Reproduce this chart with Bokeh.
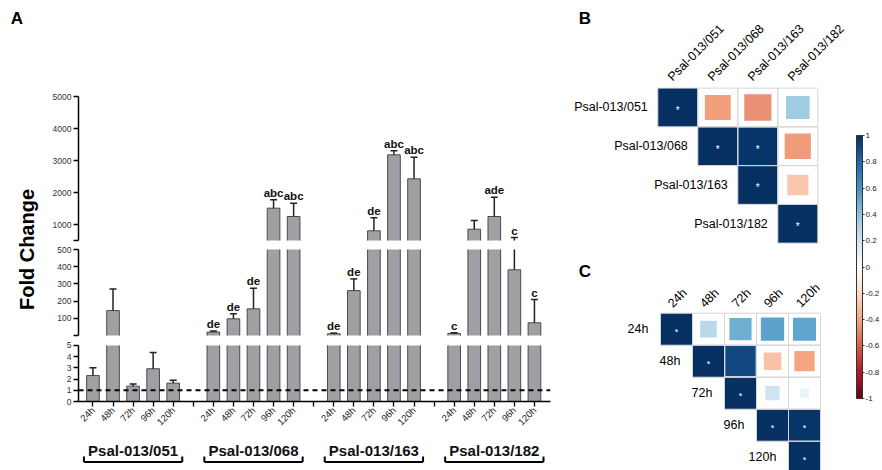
import numpy as np
from math import pi
from bokeh.plotting import figure
from bokeh.models import (Range1d, FixedTicker, Span, ColumnDataSource, ColorBar,
                          LinearColorMapper, CustomJSTickFormatter)
from bokeh.layouts import row, column
from bokeh.core.properties import value
from bokeh.transform import linear_cmap
from bokeh.embed import file_html
from bokeh.resources import INLINE

FONT = "Liberation Sans"

# ---------------- data: panel A ----------------
groups = ["Psal-013/051", "Psal-013/068", "Psal-013/163", "Psal-013/182"]
times = ["24h", "48h", "72h", "96h", "120h"]
fold_051 = [2.31, 145, 1.37, 2.92, 1.64]
err_051 = [0.70, 126, 0.18, 1.44, 0.26]
fold_068 = [20, 97, 155, 1510, 1250]
err_068 = [6, 29, 120, 261, 416]
fold_163 = [10, 261, 803, 3177, 2427]
err_163 = [4, 68, 406, 125, 677]
fold_182 = [12, 853, 1250, 382, 74]
err_182 = [4, 272, 604, 208, 135]
sig_051 = ["", "", "", "", ""]
sig_068 = ["de", "de", "de", "abc", "abc"]
sig_163 = ["de", "de", "de", "abc", "abc"]
sig_182 = ["c", "", "ade", "c", "c"]
y_ticks_top = [500, 1000, 2000, 3000, 4000, 5000]
y_ticks_mid = [0, 100, 200, 300, 400, 500]
y_ticks_bot = [0, 1, 2, 3, 4, 5]
baseline_fold = 1

# ---------------- data: panels B and C ----------------
B_labels = ["Psal-013/051", "Psal-013/068", "Psal-013/163", "Psal-013/182"]
B_corr = [[1.00, -0.42, -0.46, 0.35],
          [None, 1.00, 0.97, -0.43],
          [None, None, 1.00, -0.28],
          [None, None, None, 1.00]]
B_sig = [[1, 0, 0, 0], [0, 1, 1, 0], [0, 0, 1, 0], [0, 0, 0, 1]]

C_labels = ["24h", "48h", "72h", "96h", "120h"]
C_corr = [[1.00, 0.27, 0.48, 0.53, 0.52],
          [None, 1.00, 0.90, -0.30, -0.40],
          [None, None, 1.00, 0.20, 0.08],
          [None, None, None, 1.00, 0.97],
          [None, None, None, None, 1.00]]
C_sig = [[1, 0, 0, 0, 0], [0, 1, 0, 0, 0], [0, 0, 1, 0, 0], [0, 0, 0, 1, 1], [0, 0, 0, 0, 1]]

cbar_ticks = [-1, -0.8, -0.6, -0.4, -0.2, 0, 0.2, 0.4, 0.6, 0.8, 1]

# ---------------- palette (corrplot RdBu) ----------------
base = ["#67001F", "#B2182B", "#D6604D", "#F4A582", "#FDDBC7", "#FFFFFF",
        "#D1E5F0", "#92C5DE", "#4393C3", "#2166AC", "#053061"]
rgb = np.array([[int(c[i:i + 2], 16) for i in (1, 3, 5)] for c in base], float)
t = np.linspace(0, len(base) - 1, 200)
PAL = []
for tt in t:
    k = min(int(tt), len(base) - 2)
    f = tt - k
    c = rgb[k] * (1 - f) + rgb[k + 1] * f
    PAL.append("#%02x%02x%02x" % tuple(int(round(v)) for v in c))

# ---------------- panel A assembly ----------------
folds = [fold_051, fold_068, fold_163, fold_182]
errs = [err_051, err_068, err_163, err_182]
sigs = [sig_051, sig_068, sig_163, sig_182]
slot = len(times) + 1
xs, fv, ev, sv, tl = [], [], [], [], []
for g in range(len(groups)):
    for k in range(len(times)):
        xs.append(g * slot + k)
        fv.append(folds[g][k]); ev.append(errs[g][k]); sv.append(sigs[g][k])
        tl.append(times[k])
xs = np.array(xs, float); fv = np.array(fv, float); ev = np.array(ev, float)
sv = np.array(sv, dtype=object)
n_ticks = len(groups) * slot - 1
tick_labels = {i: "" for i in range(n_ticks)}
for x, lab in zip(xs, tl):
    tick_labels[int(x)] = lab

XR = Range1d(-0.72, 22.8)
BAR_W = 0.63
BAR_FILL = "#A0A0A4"
BAR_LINE = "#4A4A4A"
LEFT_W = 512


def seg_fig(height, yr, lo, hi, floor, ticks, top_border, bottom_border, xaxis=False, hide_lo=True):
    p = figure(width=LEFT_W, height=height, x_range=XR, y_range=yr,
               toolbar_location=None, output_backend="svg",
               x_axis_location="below" if xaxis else None,
               min_border_left=30, min_border_right=10,
               min_border_top=top_border, min_border_bottom=bottom_border)
    p.outline_line_color = None
    p.xgrid.visible = False
    p.ygrid.visible = False
    ya = p.yaxis[0]
    ya.ticker = FixedTicker(ticks=ticks)
    ya.bounds = (lo, hi)
    if hide_lo:
        ya.major_label_overrides = {lo: ""}
    ya.axis_line_width = 1.5
    ya.axis_line_color = "black"
    ya.major_tick_line_color = "black"
    ya.major_tick_line_width = 1.3
    ya.major_tick_out = 5
    ya.major_tick_in = 0
    ya.minor_tick_line_color = None
    ya.major_label_standoff = 2
    ya.major_label_text_font = FONT
    ya.major_label_text_font_size = "8.5px"
    ya.major_label_text_color = "#333333"

    # bars clipped to this segment (fill, then outline without the cut edges)
    m = fv > floor
    x = xs[m]
    top = np.minimum(fv[m], hi)
    p.vbar(x=x, width=BAR_W, bottom=lo, top=top, fill_color=BAR_FILL, line_color=None)
    p.segment(x0=x - BAR_W / 2, y0=lo, x1=x - BAR_W / 2, y1=top, line_color=BAR_LINE, line_width=1)
    p.segment(x0=x + BAR_W / 2, y0=lo, x1=x + BAR_W / 2, y1=top, line_color=BAR_LINE, line_width=1)
    mt = fv[m] <= hi
    p.segment(x0=x[mt] - BAR_W / 2, y0=top[mt], x1=x[mt] + BAR_W / 2, y1=top[mt],
              line_color=BAR_LINE, line_width=1)
    # error bars clipped to this segment
    et = fv + ev
    m2 = (et > floor) & (fv < hi)
    e0 = np.maximum(fv[m2], lo)
    e1 = np.minimum(et[m2], hi)
    p.segment(x0=xs[m2], y0=e0, x1=xs[m2], y1=e1, line_color="#222222", line_width=1.5)
    m3 = (et > floor) & (et <= hi)
    p.scatter(x=xs[m3], y=et[m3], marker="dash", size=7, line_color="#222222", line_width=1.5)
    # significance letters
    m4 = m3 & (sv != "")
    if m4.any():
        p.text(x=xs[m4], y=et[m4], text=list(sv[m4]), text_align="center",
               text_baseline="alphabetic", y_offset=-7,
               text_font=value(FONT), text_font_style="bold", text_font_size="11.5px",
               text_color="#111111")
    return p


fig_top = seg_fig(242, Range1d(437.5, 6500), 500, 5000, 500, y_ticks_top, 48, 0)
fig_mid = seg_fig(96, Range1d(-17.44, 540.7), 0, 500, 5, y_ticks_mid, 0, 0)
fig_bot = seg_fig(96, Range1d(0, 5.614), 0, 5, 0, y_ticks_bot, 0, 32, xaxis=True, hide_lo=False)
xa = fig_bot.xaxis[0]
xa.ticker = FixedTicker(ticks=list(range(n_ticks)))
xa.major_label_overrides = tick_labels
xa.major_label_orientation = pi / 4
xa.axis_line_width = 1.5
xa.axis_line_color = "black"
xa.major_tick_line_color = "black"
xa.major_tick_line_width = 1.3
xa.major_tick_out = 5
xa.major_tick_in = 0
xa.minor_tick_line_color = None
xa.major_label_standoff = 2
xa.major_label_text_font = FONT
xa.major_label_text_font_size = "9.5px"
xa.major_label_text_color = "#222222"
fig_bot.add_layout(Span(location=baseline_fold, dimension="width", line_color="black",
                        line_width=2, line_dash="5 4"))

# group labels + brackets
fig_grp = figure(width=LEFT_W, height=36, x_range=XR, y_range=Range1d(0, 36),
                 toolbar_location=None, output_backend="svg",
                 x_axis_location=None, y_axis_location=None,
                 min_border_left=30, min_border_right=10, min_border_top=0, min_border_bottom=0)
fig_grp.outline_line_color = None
fig_grp.xgrid.visible = False
fig_grp.ygrid.visible = False
gc = np.array([g * slot + (len(times) - 1) / 2 for g in range(len(groups))])
half = len(times) / 2 - 0.05
fig_grp.text(x=gc, y=20, text=groups, text_align="center", text_baseline="middle",
             text_font=value(FONT), text_font_style="bold", text_font_size="15px",
             text_color="#111111")
fig_grp.segment(x0=gc - half, y0=8.5, x1=gc + half, y1=8.5, line_color="black", line_width=2)
fig_grp.segment(x0=gc - half, y0=8.5, x1=gc - half, y1=14, line_color="black", line_width=2)
fig_grp.segment(x0=gc + half, y0=8.5, x1=gc + half, y1=14, line_color="black", line_width=2)

# left strip: panel letter + y label
fig_lab = figure(width=48, height=470, x_range=Range1d(0, 48), y_range=Range1d(470, 0),
                 toolbar_location=None, output_backend="svg",
                 x_axis_location=None, y_axis_location=None, min_border=0)
fig_lab.outline_line_color = None
fig_lab.xgrid.visible = False
fig_lab.ygrid.visible = False
fig_lab.text(x=[16.5], y=[18], text=["A"], text_align="center", text_baseline="middle",
             text_font=value(FONT), text_font_style="bold", text_font_size="17px",
             text_color="black")
fig_lab.text(x=[26], y=[249], text=["Fold Change"], angle=pi / 2, text_align="center",
             text_baseline="middle", text_font=value(FONT), text_font_style="bold",
             text_font_size="20px", text_color="black")


# ---------------- panels B and C ----------------
def corr_fig(labels, corr, sig, height, xr, yr, letter, letter_xy, font_px, star_px, gap):
    p = figure(width=292, height=height, x_range=xr, y_range=yr,
               toolbar_location=None, output_backend="svg",
               x_axis_location=None, y_axis_location=None, min_border=0)
    p.outline_line_color = None
    p.xgrid.visible = False
    p.ygrid.visible = False
    n = len(labels)
    rr, cc, vv, ss = [], [], [], []
    for i in range(n):
        for j in range(i, n):
            rr.append(i); cc.append(j); vv.append(corr[i][j]); ss.append(sig[i][j])
    vv = np.array(vv, float)
    src = ColumnDataSource(dict(row=rr, col=cc, r=vv, size=np.sqrt(np.abs(vv))))
    p.rect(x="col", y="row", width="size", height="size", source=src,
           fill_color=linear_cmap("r", PAL, -1, 1), line_color=None)
    p.rect(x="col", y="row", width=1, height=1, source=src, fill_color=None,
           line_color="#D6D6D6", line_width=1)
    sr = [r for r, s in zip(rr, ss) if s]
    sc = [c for c, s in zip(cc, ss) if s]
    p.text(x=sc, y=sr, text=["*"] * len(sr), text_align="center", text_baseline="middle",
           y_offset=3, text_font=value(FONT), text_font_size=star_px, text_color="white")
    idx = list(range(n))
    p.text(x=[i - 0.5 - gap for i in idx], y=idx, text=labels, text_align="right",
           text_baseline="middle", text_font=value(FONT), text_font_size=font_px,
           text_color="black")
    p.text(x=[i - 0.2 for i in idx], y=[-0.74] * n, text=labels, angle=pi / 4,
           text_align="left", text_baseline="alphabetic", text_font=value(FONT),
           text_font_size=font_px, text_color="black")
    p.text(x=[letter_xy[0]], y=[letter_xy[1]], text=[letter], text_align="center",
           text_baseline="middle", text_font=value(FONT), text_font_style="bold",
           text_font_size="17px", text_color="black")
    return p


fig_B = corr_fig(B_labels, B_corr, B_sig, 262, Range1d(-2.9325, 4.3675), Range1d(4.0, -2.761),
                 "B", (-2.32, -2.30), "12.5px", "10px", 0.25)
fig_C = corr_fig(C_labels, C_corr, C_sig, 208, Range1d(-3.625, 5.5), Range1d(4.416, -2.084),
                 "C", (-2.86, -1.79), "12.5px", "9px", 0.38)

# ---------------- colour bar ----------------
fig_cb = figure(width=30, height=470, x_range=Range1d(0, 1), y_range=Range1d(0, 1),
                toolbar_location=None, output_backend="svg",
                x_axis_location=None, y_axis_location=None, min_border=0)
fig_cb.outline_line_color = None
fig_cb.xgrid.visible = False
fig_cb.ygrid.visible = False
cmap = LinearColorMapper(palette=PAL, low=-1, high=1)
cb = ColorBar(color_mapper=cmap, location=(4, 72), width=6, height=263,
              orientation="vertical", padding=0, margin=0,
              ticker=FixedTicker(ticks=cbar_ticks),
              formatter=CustomJSTickFormatter(code="return tick.toFixed(1).replace(/\\.0$/, '')"),
              major_tick_in=0, major_tick_out=2, major_tick_line_color="#333333",
              minor_tick_line_color=None, bar_line_color="#333333", bar_line_width=1,
              label_standoff=1, major_label_text_font=FONT, major_label_text_font_size="8px",
              major_label_text_color="#222222", background_fill_alpha=0, border_line_color=None)
fig_cb.add_layout(cb)

layout = row(fig_lab, column(fig_top, fig_mid, fig_bot, fig_grp),
             column(fig_B, fig_C), fig_cb)

open("out.html", "w").write(file_html(layout, INLINE))
